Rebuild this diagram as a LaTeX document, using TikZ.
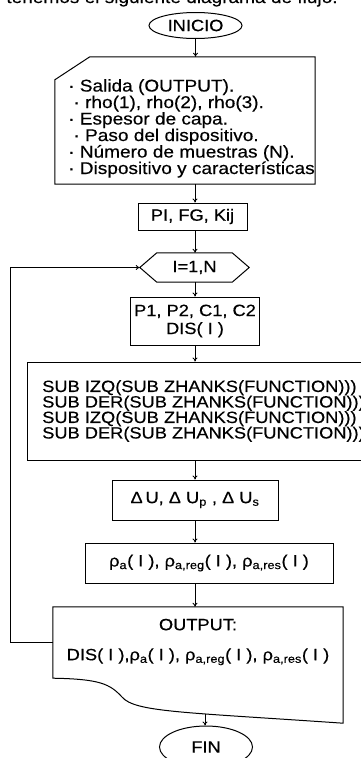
\documentclass[tikz,border=0pt]{standalone}
\usepackage{fontspec}
\setmainfont{Liberation Sans}[FakeStretch=1.12, FakeBold=0.4]
\usetikzlibrary{arrows.meta, shapes.geometric, calc}

\tikzset{
  contorno/.style={line width=1pt},
  caja/.style={draw, contorno, rectangle, align=center, font=\fontsize{16.3}{18}\selectfont},
  terminal/.style={draw, contorno, ellipse, minimum width=93pt, font=\fontsize{16.3}{18}\selectfont},
  hueco/.style={rectangle, inner sep=0pt, align=center, font=\fontsize{16.3}{18}\selectfont},
  flecha/.style={line width=0.8pt, -{To[length=4pt, width=5pt]}},
}

\begin{document}
\begin{tikzpicture}[x=1pt, y=-1pt]
  \useasboundingbox (0,0) rectangle (360,758);
  \coordinate (eje) at (195,0);
  \coordinate (bucle) at (10,0);

  % linea de texto cortada arriba
  \node[hueco, anchor=base, font=\fontsize{17}{17}\selectfont] (cabecera) at (172,3)
    {tenemos el siguiente diagrama de flujo:};

  % inicio
  \node[terminal, minimum height=26pt] (inicio) at (195.5,25.5) {INICIO};

  % entrada de datos (entrada manual)
  \node[hueco, minimum width=260pt, minimum height=127pt] (datos) at (185,120.5) {};
  \draw[contorno] (datos.south west) -- (datos.south east) -- (datos.north east)
    -- ($(datos.north west)+(35,0)$) -- ($(datos.north west)+(0,23)$) -- cycle;
  \node[hueco, anchor=north west, align=left, font=\fontsize{17}{16.5}\selectfont] (listadatos) at (68,79)
    {· Salida (OUTPUT).\\
     \ · rho(1), rho(2), rho(3).\\
     · Espesor de capa.\\
     \ · Paso del dispositivo.\\
     · Número de muestras (N).\\
     · Dispositivo y características};

  % constantes
  \node[caja, minimum width=109pt, minimum height=27pt] (pifg) at (192.5,216.5) {PI, FG, Kij};

  % ciclo (hexagono)
  \node[hueco, minimum width=109pt, minimum height=29pt] (ciclo) at (194.5,267.5) {I=1,N};
  \draw[contorno] (ciclo.west) -- ([xshift=17pt]ciclo.north west) -- ([xshift=-17pt]ciclo.north east)
    -- (ciclo.east) -- ([xshift=-17pt]ciclo.south east) -- ([xshift=17pt]ciclo.south west) -- cycle;

  % parametros
  \node[caja, minimum width=126pt, minimum height=48pt] (pc) at (195,321) {P1, P2, C1, C2\\DIS( I )};

  % subrutinas
  \node[caja, align=left, minimum width=353pt, minimum height=98pt, font=\fontsize{16.3}{15.5}\selectfont] (sub) at (203.5,411)
    {SUB IZQ(SUB ZHANKS(FUNCTION)))\\
     SUB DER(SUB ZHANKS(FUNCTION)))\\
     SUB IZQ(SUB ZHANKS(FUNCTION)))\\
     SUB DER(SUB ZHANKS(FUNCTION)))};

  % incrementos
  \node[caja, minimum width=166pt, minimum height=40pt] (du) at (195,500)
    {Δ\,U, Δ U\textsubscript{p} , Δ U\textsubscript{s}};

  % resistividades
  \node[caja, minimum width=248pt, minimum height=40pt] (rho) at (209,563)
    {ρ\textsubscript{a}( I ), ρ\textsubscript{a,reg}( I ), ρ\textsubscript{a,res}( I )};

  % salida (documento)
  \node[hueco, minimum width=290pt, minimum height=70pt] (salida) at (198,642)
    {OUTPUT:\\[12pt]DIS( I ),ρ\textsubscript{a}( I ), ρ\textsubscript{a,reg}( I ), ρ\textsubscript{a,res}( I )};
  \draw[contorno] (salida.north west) -- (salida.north east) -- ($(salida.south east)+(0,46)$)
    .. controls (180,712) and (135,712) .. (122,697)
    .. controls (110,684) and (100,679) .. ($(salida.south west)+(0,1)$) -- cycle;
  \coordinate (salidafin) at (205,714);

  % fin
  \node[terminal, minimum height=42pt] (fin) at (206,747) {FIN};

  % flechas
  \draw[flecha] (inicio.south) -- (inicio.south |- datos.north);
  \draw[flecha] (datos.south -| eje) -- (pifg.north -| eje);
  \draw[flecha] (pifg.south -| eje) -- (ciclo.north -| eje);
  \draw[flecha] (ciclo.south -| eje) -- (pc.north -| eje);
  \draw[flecha] (pc.south -| eje) -- (sub.north -| eje);
  \draw[flecha] (sub.south -| eje) -- (du.north -| eje);
  \draw[flecha] (du.south -| eje) -- (rho.north -| eje);
  \draw[flecha] (rho.south -| eje) -- (salida.north -| eje);
  \draw[flecha] (salidafin) -- (salidafin |- fin.north);

  % retorno del ciclo
  \draw[flecha] (salida.west) -- (salida.west -| bucle) |- (ciclo.west);
\end{tikzpicture}
\end{document}
